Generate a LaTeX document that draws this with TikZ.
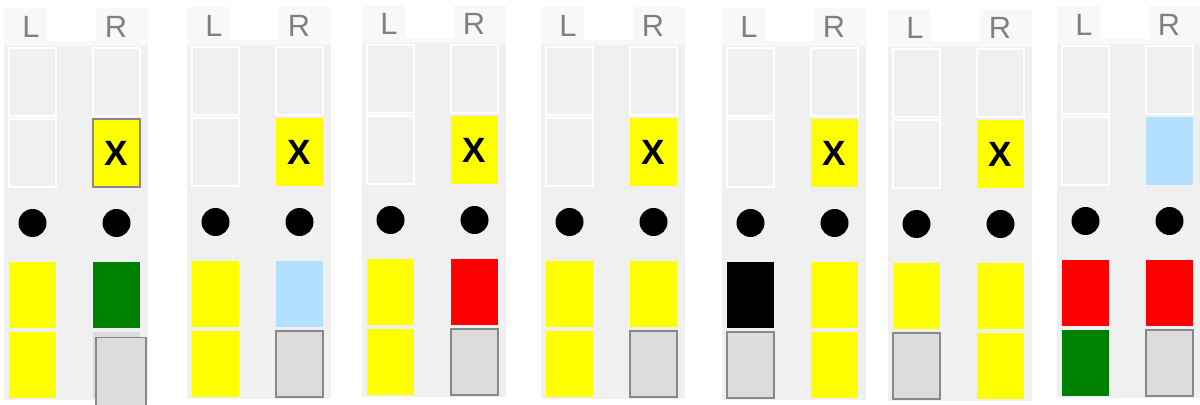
\documentclass[tikz,border=0pt]{standalone}
\usepackage{fontspec}
\setmainfont{Liberation Sans}
\usetikzlibrary{positioning}

\definecolor{panelGray}{HTML}{F0F0F0}
\definecolor{headGray}{HTML}{F8F8F8}
\definecolor{labelGray}{HTML}{808080}
\definecolor{cellYellow}{HTML}{FFFF00}
\definecolor{cellGreen}{HTML}{008000}
\definecolor{cellBlue}{HTML}{B3E0FF}
\definecolor{cellRed}{HTML}{FF0000}
\definecolor{cellGray}{HTML}{DCDCDC}
\definecolor{frameGray}{HTML}{888888}

\begin{document}
\begin{tikzpicture}[
  x=0.02cm, y=-0.02cm,
  cell/.style={rectangle, minimum width=0.94cm, minimum height=1.36cm,
               inner sep=0pt},
  low/.style={cell, minimum height=1.32cm},
  emptyCell/.style={fill=panelGray, draw=white, line width=0.9pt},
  yellowCell/.style={fill=cellYellow},
  greenCell/.style={fill=cellGreen},
  blueCell/.style={fill=cellBlue},
  redCell/.style={fill=cellRed},
  blackCell/.style={fill=black},
  grayPlain/.style={fill=cellGray},
  grayCell/.style={fill=cellGray, draw=frameGray, line width=1.1pt},
  markCell/.style={fill=cellYellow,
                   font=\bfseries\fontsize{20}{20}\selectfont},
  markFramed/.style={markCell, draw=frameGray, line width=0.7pt},
  dot/.style={circle, fill=black, minimum size=0.56cm, inner sep=0pt},
  colLabel/.style={text=labelGray, inner sep=0pt,
                   font=\fontsize{17.5}{18}\selectfont}
]
  \useasboundingbox (0,0) rectangle (1200,405);

  \foreach \p/\x/\y/\lRow/\rRow/\lBot/\rBot/\rMid/\mark in {
      1/4/8/yellowCell/greenCell/yellowCell/grayPlain/markFramed/X,
      2/187/7/yellowCell/blueCell/yellowCell/grayCell/markCell/X,
      3/362/5/yellowCell/redCell/yellowCell/grayCell/markCell/X,
      4/541/7/yellowCell/yellowCell/yellowCell/grayCell/markCell/X,
      5/722/8/blackCell/yellowCell/grayCell/yellowCell/markCell/X,
      6/888/9/yellowCell/yellowCell/grayCell/yellowCell/markCell/X,
      7/1057/6/redCell/redCell/greenCell/grayCell/blueCell/{}} {
    % panel and header strip
    \fill[panelGray] (\x,\y) rectangle ++(144,392);
    \fill[headGray] (\x,\y) rectangle ++(144,38);
    \fill[white] (\x+43,\y) rectangle ++(49,33);
    \node[colLabel] (l\p) at (\x+27,\y+19) {L};
    \node[colLabel] (r\p) at (\x+112,\y+19) {R};

    % upper cells
    \node[cell, emptyCell] (l\p a) at (\x+28.5,\y+74) {};
    \node[cell, emptyCell] (r\p a) at (\x+112.5,\y+74) {};
    \node[cell, emptyCell] (l\p b) at (\x+28.5,\y+145) {};
    \node[cell, \rMid] (r\p b) at (\x+112.5,\y+145) {\mark};

    % dots
    \node[dot] (l\p c) at (\x+28.5,\y+215) {};
    \node[dot] (r\p c) at (\x+112.5,\y+215) {};

    % lower cells
    \node[low, \lRow] (l\p d) at (\x+28.5,\y+287) {};
    \node[low, \rRow] (r\p d) at (\x+112.5,\y+287) {};
    \node[low, \lBot] (l\p e) at (\x+28.5,\y+357) {};
    \node[low, \rBot] (r\p e) at (\x+112.5,\y+357) {};
  }

  % shifted box in the first panel
  \node[grayCell, minimum width=1cm, minimum height=1.38cm, inner sep=0pt]
    (r1off) at (121,372) {};
\end{tikzpicture}
\end{document}
